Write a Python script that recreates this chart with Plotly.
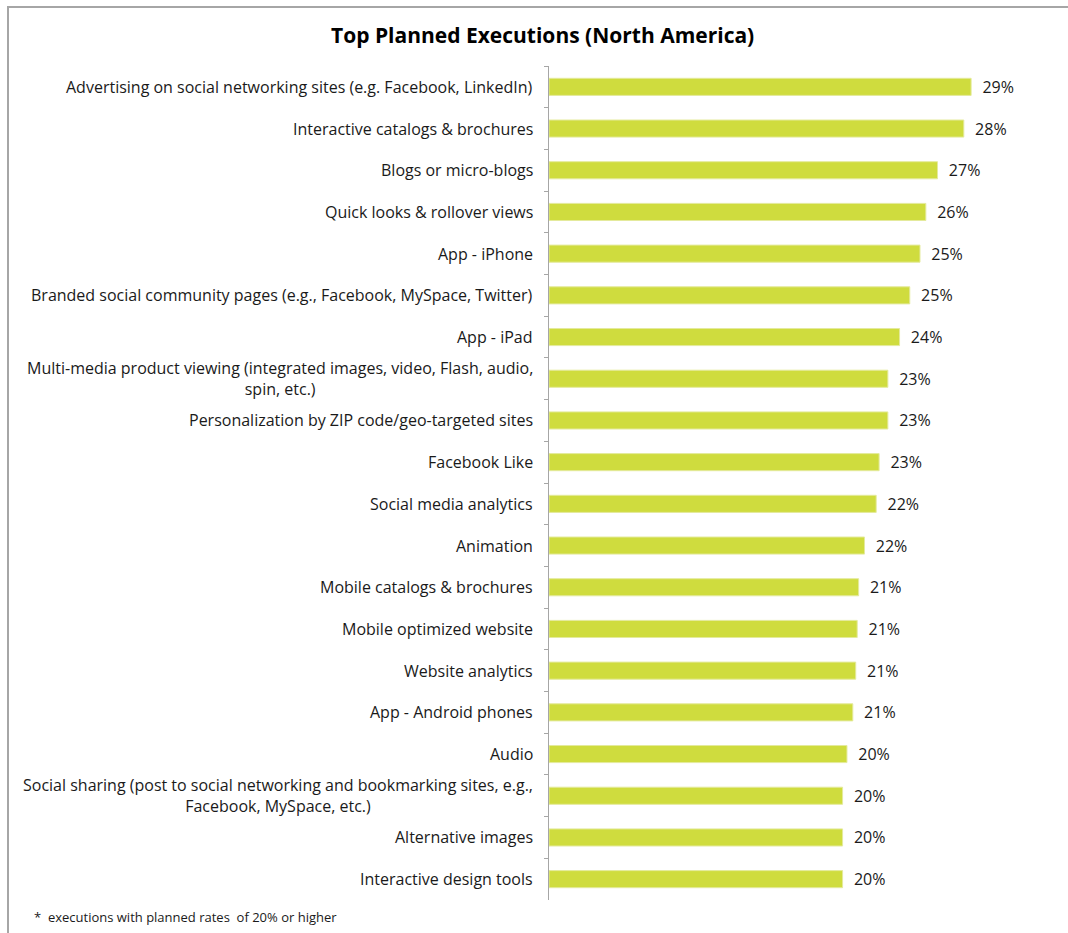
import plotly.graph_objects as go

# Planned executions, top to bottom
categories = [
    "Advertising on social networking sites (e.g. Facebook, LinkedIn)",
    "Interactive catalogs & brochures",
    "Blogs or micro-blogs",
    "Quick looks & rollover views",
    "App - iPhone",
    "Branded social community pages (e.g., Facebook, MySpace, Twitter)",
    "App - iPad",
    "Multi-media product viewing (integrated images, video, Flash, audio,<br>spin, etc.)",
    "Personalization by ZIP code/geo-targeted sites",
    "Facebook Like",
    "Social media analytics",
    "Animation",
    "Mobile catalogs & brochures",
    "Mobile optimized website",
    "Website analytics",
    "App - Android phones",
    "Audio",
    "Social sharing (post to social networking and bookmarking sites, e.g.,<br>Facebook, MySpace, etc.)",
    "Alternative images",
    "Interactive design tools",
]

# Planned rate, percent
values = [28.9, 28.4, 26.6, 25.8, 25.4, 24.7, 24.0, 23.2, 23.2, 22.6,
          22.4, 21.6, 21.2, 21.1, 21.0, 20.8, 20.4, 20.1, 20.1, 20.1]

title_text = "Top Planned Executions (North America)"
footnote = "*  executions with planned rates  of 20% or higher"

FONT = "Open Sans"
BAR = "#CFDC3E"
AXIS = "#A6A6A6"
TEXT = "#1A1A1A"

W, H = 1068, 933
left, right, top, bottom = 549, 37, 66, 33
x_max = 33.0

plot_w = W - left - right
plot_h = H - top - bottom


def px_x(px):
    """Page pixel column -> paper x."""
    return (px - left) / plot_w


def px_y(py):
    """Page pixel row -> paper y."""
    return (H - bottom - py) / plot_h


fig = go.Figure(
    go.Bar(
        x=values,
        y=categories,
        orientation="h",
        marker=dict(color=BAR, line=dict(color="#E4EA9C", width=1)),
        texttemplate="\u00a0\u00a0%{x:.0f}%",
        textposition="outside",
        constraintext="none",
        textfont=dict(family=FONT, size=16, color=TEXT),
        cliponaxis=False,
        hoverinfo="skip",
    )
)

# Category labels as annotations so wrapped lines stay centred
annotations = [
    dict(
        x=0, xref="paper", y=c, yref="y",
        text=c, showarrow=False,
        xanchor="right", yanchor="middle", xshift=-14,
        align="center",
        font=dict(family=FONT, size=16, color=TEXT),
    )
    for c in categories
]

annotations.append(dict(
    x=px_x(542), xref="paper", xanchor="center",
    y=px_y(35), yref="paper", yanchor="middle",
    text="<b>" + title_text + "</b>", showarrow=False,
    font=dict(family=FONT, size=21, color="#000000"),
))

annotations.append(dict(
    x=px_x(32), xref="paper", xanchor="left",
    y=px_y(917), yref="paper", yanchor="middle",
    text=footnote, showarrow=False,
    font=dict(family=FONT, size=13, color=TEXT),
))

# Outer frame, running off the right and bottom edges
frame = dict(
    type="rect", xref="paper", yref="paper",
    x0=px_x(8), x1=px_x(W + 20),
    y0=px_y(H + 20), y1=px_y(7),
    line=dict(color=AXIS, width=2), fillcolor="rgba(0,0,0,0)", layer="below",
)

fig.update_layout(
    width=W, height=H,
    margin=dict(l=left, r=right, t=top, b=bottom),
    paper_bgcolor="white", plot_bgcolor="white",
    showlegend=False,
    bargap=0.59,
    annotations=annotations,
    shapes=[frame],
    xaxis=dict(visible=False, range=[0, x_max], fixedrange=True),
    yaxis=dict(
        autorange="reversed",
        showline=True, linecolor=AXIS, linewidth=1,
        ticks="outside", ticklen=4, tickcolor=AXIS,
        tickson="boundaries",
        showticklabels=False, showgrid=False, zeroline=False,
    ),
)

fig.write_html("out.html")
